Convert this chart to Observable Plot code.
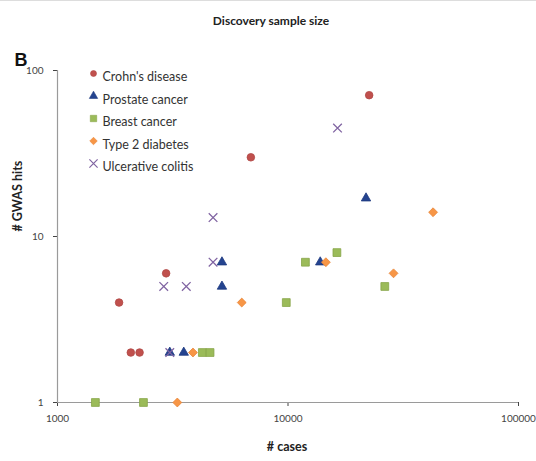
<!DOCTYPE html>
<html>
<head>
<meta charset="utf-8">
<script src="https://cdn.jsdelivr.net/npm/d3@7"></script>
<script src="https://cdn.jsdelivr.net/npm/@observablehq/plot@0.6"></script>
<style>
  html, body { margin: 0; padding: 0; background: #fff; }
  body { width: 536px; height: 461px; overflow: hidden; border-top: 1px solid #ddd; box-sizing: border-box; }
</style>
</head>
<body>
<div id="chart"></div>
<script>
// ---- Data ----
const seriesNames = ["Crohn's disease", "Prostate cancer", "Breast cancer", "Type 2 diabetes", "Ulcerative colitis"];
const seriesColors = ["#C0504D", "#24438F", "#9BBB59", "#F79646", "#8064A2"];
const seriesEdges = ["#B04845", "#1E3A80", "#86A548", "#E8873A", "#8064A2"];
const seriesSymbols = ["circle", "triangle", "square", "diamond2", "times"];

const crohnsCases = [1850, 2080, 2270, 2960, 6900, 22500];
const crohnsHits  = [4, 2, 2, 6, 30, 71];

const prostateCases = [3070, 3530, 5170, 5170, 13800, 21800];
const prostateHits  = [2, 2, 7, 5, 7, 17];

const breastCases = [1460, 2360, 4250, 4590, 9830, 11900, 16300, 26300];
const breastHits  = [1, 1, 2, 2, 4, 7, 8, 5];

const t2dCases = [3310, 3870, 6300, 14600, 28700, 42600];
const t2dHits  = [1, 2, 4, 7, 6, 14];

const ucCases = [3070, 2890, 3620, 4730, 4730, 16400];
const ucHits  = [2, 5, 5, 7, 13, 45];

const xTicks = [1000, 10000, 100000];
const yTicks = [1, 10, 100];

const titleText = "Discovery sample size";
const panelLetter = "B";
const xLabel = "# cases";
const yLabel = "# GWAS hits";

// ---- Build table ----
const casesBySeries = [crohnsCases, prostateCases, breastCases, t2dCases, ucCases];
const hitsBySeries = [crohnsHits, prostateHits, breastHits, t2dHits, ucHits];
const data = [];
seriesNames.forEach((name, i) => {
  casesBySeries[i].forEach((c, j) => data.push({series: name, cases: c, hits: hitsBySeries[i][j]}));
});

const radius = {"circle": 3.8, "triangle": 3.5, "square": 4.4, "diamond2": 4.0, "times": 4.0};
const legendRadius = {"circle": 3.0, "triangle": 3.1, "square": 3.6, "diamond2": 3.4, "times": 3.8};

const pointMarks = seriesNames.map((name, i) => {
  const sym = seriesSymbols[i];
  const isStroke = sym === "times";
  return Plot.dot(data.filter(d => d.series === name), {
    x: "cases", y: "hits", symbol: () => sym, r: radius[sym],
    fill: isStroke ? "none" : seriesColors[i],
    stroke: seriesEdges[i],
    strokeWidth: isStroke ? 1.3 : 0.8
  });
});

const legendMarks = seriesNames.flatMap((name, i) => {
  const sym = seriesSymbols[i];
  const isStroke = sym === "times";
  return [
    Plot.dot([name], {
      frameAnchor: "top-left", dx: 36, dy: 3 + i * 22.5, symbol: () => sym, r: legendRadius[sym],
      fill: isStroke ? "none" : seriesColors[i],
      stroke: seriesEdges[i],
      strokeWidth: isStroke ? 1.2 : 0.6
    }),
    Plot.text([name], {
      frameAnchor: "top-left", dx: 45, dy: 2 + i * 22.5, text: d => d,
      textAnchor: "start", fontSize: 12.5, fill: "#333"
    })
  ];
});

const chart = Plot.plot({
  width: 536,
  height: 460,
  marginLeft: 57,
  marginRight: 18,
  marginTop: 69,
  marginBottom: 59,
  style: {fontFamily: "Lato, 'Open Sans', sans-serif", fontSize: "10px", color: "#444", background: "#fff"},
  x: {type: "log", domain: [1000, 100000], ticks: xTicks, tickFormat: d => String(d), tickSize: 4, tickPadding: 8, label: null},
  y: {type: "log", domain: [1, 100], ticks: yTicks, tickFormat: d => String(d), tickSize: 4, tickPadding: 10, label: null},
  marks: [
    Plot.ruleX([1000], {stroke: "#9a9a9a", strokeWidth: 1.2}),
    Plot.ruleY([1], {stroke: "#9a9a9a", strokeWidth: 1.2}),
    ...pointMarks,
    ...legendMarks,
    Plot.text([titleText], {frameAnchor: "top", dx: -17, dy: -54, text: d => d, fontWeight: "bold", fontSize: 12, fill: "#222"}),
    Plot.text([panelLetter], {frameAnchor: "top-left", dx: -43, dy: -17, text: d => d, fontWeight: "bold", fontSize: 18, fill: "#111", fontFamily: "'Liberation Sans', Arial, sans-serif"}),
    Plot.text([xLabel], {frameAnchor: "bottom", dx: -1, dy: 48, text: d => d, fontWeight: "bold", fontSize: 12.5, fill: "#222"}),
    Plot.text([yLabel], {frameAnchor: "left", dx: -40, dy: -5, rotate: -90, text: d => d, fontWeight: "bold", fontSize: 12.5, fill: "#222"})
  ]
});
document.getElementById("chart").appendChild(chart);
</script>
</body>
</html>
